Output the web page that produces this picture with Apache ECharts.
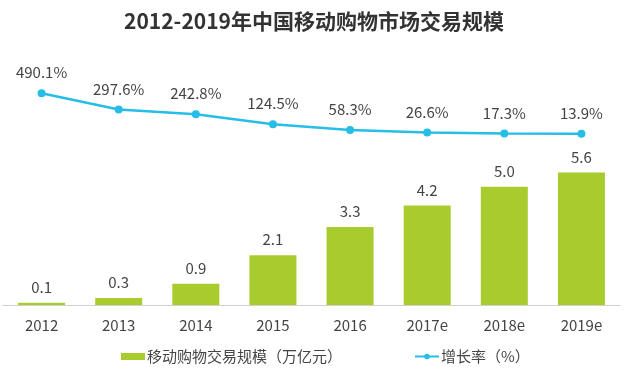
<!DOCTYPE html>
<html><head><meta charset="utf-8">
<script src="https://cdn.jsdelivr.net/npm/echarts@6/dist/echarts.min.js"></script>
<style>html,body{margin:0;padding:0;background:#fff}#c{width:628px;height:389px}</style>
</head><body><div id="c"></div>
<script>
const categories = ['2012','2013','2014','2015','2016','2017e','2018e','2019e'];
const scaleValues = [0.1, 0.3, 0.9, 2.1, 3.3, 4.2, 5.0, 5.6];
const growthValues = [490.1, 297.6, 242.8, 124.5, 58.3, 26.6, 17.3, 13.9];
const barName = '移动购物交易规模（万亿元）';
const lineName = '增长率（%）';

const font = '"Noto Sans CJK SC", "Noto Sans", sans-serif';
const chart = echarts.init(document.getElementById('c'));
chart.setOption({
  animation: false,
  title: {
    text: '2012-2019年中国移动购物市场交易规模',
    left: 'center', top: 6,
    textStyle: { fontFamily: font, fontSize: 21, fontWeight: 'bold', color: '#333' }
  },
  legend: {
    bottom: 20, left: 116, itemGap: 72, itemWidth: 24, itemHeight: 7,
    textStyle: { fontFamily: font, fontSize: 15, color: '#444', padding: [0, 0, 0, -3] },
    data: [{ name: barName, icon: 'rect' }, { name: lineName }]
  },
  grid: { left: 3, right: 8, top: 60, bottom: 84, containLabel: false },
  xAxis: {
    type: 'category', data: categories,
    axisLine: { lineStyle: { color: '#d0d0d0', width: 1 } },
    axisTick: { show: false },
    axisLabel: { fontFamily: font, fontSize: 15, color: '#444', margin: 13 }
  },
  yAxis: [
    { type: 'value', min: 0, max: 10.35, show: false, splitLine: { show: false } },
    { type: 'value', min: -2000, max: 880, show: false, splitLine: { show: false } }
  ],
  series: [
    {
      name: barName, type: 'bar', data: scaleValues, barWidth: 47, yAxisIndex: 0,
      itemStyle: { color: '#a8cc2e' },
      label: { show: true, position: 'top', distance: 8, fontFamily: font, fontSize: 15, color: '#444',
        formatter: p => p.value.toFixed(1) }
    },
    {
      name: lineName, type: 'line', data: growthValues, yAxisIndex: 1,
      symbol: 'circle', symbolSize: 8,
      lineStyle: { color: '#26bde6', width: 2.5 },
      itemStyle: { color: '#26bde6' },
      label: { show: true, position: 'top', distance: 9, fontFamily: font, fontSize: 15, color: '#444',
        formatter: p => p.value.toFixed(1) + '%' }
    }
  ]
});
</script></body></html>
